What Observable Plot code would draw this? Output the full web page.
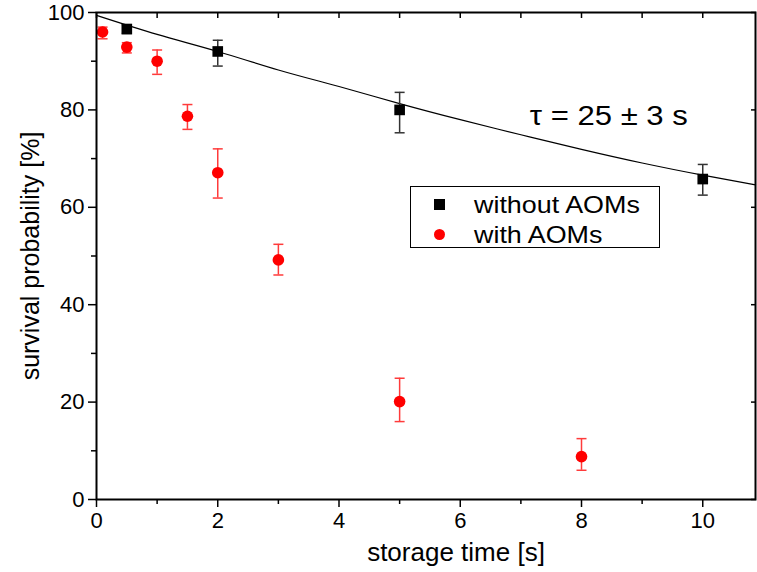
<!DOCTYPE html>
<html><head><meta charset="utf-8">
<script src="https://cdn.jsdelivr.net/npm/d3@7"></script>
<script src="https://cdn.jsdelivr.net/npm/@observablehq/plot@0.6"></script>
<style>
body{margin:0;background:#fff;}
#wrap{position:relative;width:757px;height:572px;font-family:"Liberation Sans",Arial,sans-serif;}
#legend{position:absolute;left:410px;top:186px;width:250px;height:62px;border:1px solid #000;background:#fff;box-sizing:border-box;}
#legend .row{position:absolute;left:0;height:30px;line-height:30px;font-size:24px;width:100%;}
#legend .lab{position:absolute;left:63px;top:0;white-space:nowrap;transform:scaleX(1.12);transform-origin:0 50%;}
#legend .mk{position:absolute;}
</style></head><body>
<div id="wrap"></div>
<script>
// ---- data ----
const seriesNames = ["without AOMs", "with AOMs"];
const seriesColors = ["#000000", "#ff0000"];

const timeNoAOM  = [0.5, 2, 5, 10];
const survNoAOM  = [96.6, 92.0, 80.0, 65.8];
const hiNoAOM    = [97.5, 94.3, 83.6, 68.8];
const loNoAOM    = [95.7, 89.0, 75.3, 62.5];

const timeAOM = [0.1, 0.5, 1, 1.5, 2, 3, 5, 8];
const survAOM = [96.0, 92.9, 90.0, 78.7, 67.1, 49.2, 20.1, 8.8];
const hiAOM   = [97.0, 93.8, 92.3, 81.1, 72.0, 52.4, 24.9, 12.5];
const loAOM   = [94.6, 91.7, 87.3, 76.0, 61.9, 46.1, 16.0, 6.0];

// fit curve (tau = 25 s)
const fitTime = [0, 1, 2, 3, 4, 5, 6, 7, 8, 9, 10, 10.87];
const fitSurv = [99.4, 95.5, 92.0, 88.2, 84.8, 81.3, 78.0, 74.9, 71.9, 69.1, 66.6, 64.6];

const fitLabel = [{x: 8.45, y: 78.6, text: "τ = 25 ± 3 s"}];

const xMajor = [0, 2, 4, 6, 8, 10];
const xMinor = [1, 3, 5, 7, 9];
const xTop   = [0, 1, 2, 3, 4, 5, 6, 7, 8, 9, 10];
const yMajor = [0, 20, 40, 60, 80, 100];
const yMinor = [10, 30, 50, 70, 90];

const xTitle = "storage time [s]";
const yTitle = "survival probability [%]";

// ---- build ----
const noAOM = timeNoAOM.map((t, i) => ({t, s: survNoAOM[i], hi: hiNoAOM[i], lo: loNoAOM[i]}));
const withAOM = timeAOM.map((t, i) => ({t, s: survAOM[i], hi: hiAOM[i], lo: loAOM[i]}));
const fit = fitTime.map((t, i) => ({t, s: fitSurv[i]}));

const capSymbol = {draw(ctx, size) { const r = Math.sqrt(size / Math.PI); ctx.moveTo(-r, 0); ctx.lineTo(r, 0); }};
const blank = () => "";

const chart = Plot.plot({
  width: 757, height: 572,
  marginLeft: 96, marginRight: 2, marginTop: 12, marginBottom: 73,
  x: {domain: [0, 10.87]},
  y: {domain: [0, 100]},
  style: {fontFamily: "'Liberation Sans', Arial, sans-serif", fontSize: "22px", color: "#000", background: "#fff"},
  marks: [
    Plot.line(fit, {x: "t", y: "s", stroke: "#000", strokeWidth: 1.2, curve: "natural"}),
    Plot.ruleX(noAOM, {x: "t", y1: "lo", y2: "hi", stroke: "#333", strokeWidth: 1.5}),
    Plot.dot(noAOM, {x: "t", y: "hi", symbol: capSymbol, r: 5, stroke: "#333", strokeWidth: 1.5, fill: "none"}),
    Plot.dot(noAOM, {x: "t", y: "lo", symbol: capSymbol, r: 5, stroke: "#333", strokeWidth: 1.5, fill: "none"}),
    Plot.ruleX(withAOM, {x: "t", y1: "lo", y2: "hi", stroke: "#ff3b3b", strokeWidth: 1.5}),
    Plot.dot(withAOM, {x: "t", y: "hi", symbol: capSymbol, r: 5, stroke: "#ff3b3b", strokeWidth: 1.5, fill: "none"}),
    Plot.dot(withAOM, {x: "t", y: "lo", symbol: capSymbol, r: 5, stroke: "#ff3b3b", strokeWidth: 1.5, fill: "none"}),
    Plot.dot(noAOM, {x: "t", y: "s", symbol: "square", r: 6, fill: seriesColors[0], stroke: "none"}),
    Plot.dot(withAOM, {x: "t", y: "s", symbol: "circle", r: 5.8, fill: seriesColors[1], stroke: "none"}),
    Plot.text(fitLabel, {x: "x", y: "y", text: "text", fontSize: 27, className: "taulabel"}),
    Plot.axisX(xMajor, {anchor: "bottom", tickSize: 8, tickPadding: 5, strokeWidth: 1.5, label: null}),
    Plot.axisX(xMinor, {anchor: "bottom", tickSize: 5, strokeWidth: 1.5, tickFormat: blank, label: null}),
    Plot.axisX(xTop, {anchor: "top", tickSize: 5, dy: 5, strokeWidth: 1.5, tickFormat: blank, label: null}),
    Plot.axisY(yMajor, {anchor: "left", tickSize: 8, tickPadding: 4, strokeWidth: 1.5, label: null}),
    Plot.axisY(yMinor, {anchor: "left", tickSize: 5, strokeWidth: 1.5, tickFormat: blank, label: null}),
    Plot.axisY(yMajor, {anchor: "right", tickSize: 5, dx: -5, strokeWidth: 1.5, tickFormat: blank, label: null}),
    Plot.frame({stroke: "#000", strokeWidth: 2}),
    Plot.text([xTitle], {frameAnchor: "bottom", dx: 30, dy: 53, lineAnchor: "middle", fontSize: 26, text: d => d}),
    Plot.text([yTitle], {frameAnchor: "left", dx: -66, rotate: -90, textAnchor: "middle", lineAnchor: "middle", fontSize: 25, text: d => d})
  ]
});

// widen the tau label slightly, as in the reference's wide lettering
chart.querySelectorAll(".taulabel text").forEach(t => {
  t.setAttribute("textLength", 158);
  t.setAttribute("lengthAdjust", "spacingAndGlyphs");
});

const wrap = document.getElementById("wrap");
wrap.appendChild(chart);

// legend (inside the plot area, as in the reference)
const legend = document.createElement("div");
legend.id = "legend";
seriesNames.forEach((name, i) => {
  const row = document.createElement("div");
  row.className = "row";
  row.style.top = (3 + i * 30) + "px";
  const mk = document.createElement("div");
  mk.className = "mk";
  if (i === 0) {
    mk.style.cssText = `left:23px;top:9px;width:11px;height:11px;background:${seriesColors[i]};`;
  } else {
    mk.style.cssText = `left:23px;top:9px;width:11px;height:11px;border-radius:50%;background:${seriesColors[i]};`;
  }
  const lab = document.createElement("span");
  lab.className = "lab";
  lab.textContent = name;
  row.appendChild(mk);
  row.appendChild(lab);
  legend.appendChild(row);
});
wrap.appendChild(legend);
</script>
</body></html>
